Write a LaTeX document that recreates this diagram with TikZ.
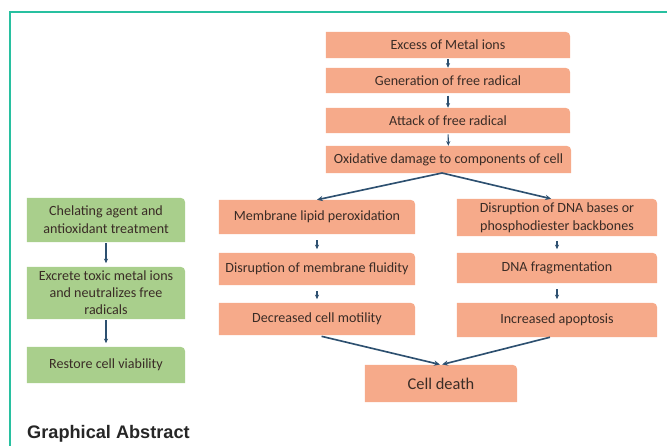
\documentclass[tikz,border=0pt]{standalone}
\usepackage{fontspec}
\setmainfont{Carlito}
\newfontfamily\titlefont{Liberation Sans}
\usetikzlibrary{backgrounds,arrows.meta}
\definecolor{boxorange}{RGB}{246,170,138}
\definecolor{boxgreen}{RGB}{169,207,140}
\definecolor{arrowblue}{RGB}{45,80,112}
\definecolor{frameteal}{RGB}{40,192,160}
\definecolor{boxtext}{RGB}{58,44,38}
\tikzset{
  flowbox/.style 2 args={minimum width=#1*0.3mm,minimum height=#2*0.3mm,inner sep=1pt,align=center,
    text=boxtext,font=\fontsize{12}{15}\selectfont},
  flowarrow/.style={arrowblue,line width=0.9pt,-{Stealth[length=4pt,width=3.5pt]}},
  splitarrow/.style={arrowblue,line width=1.4pt,-{Stealth[length=5pt,width=4.5pt]}}
}
\begin{document}
\begin{tikzpicture}[x=0.03cm,y=-0.03cm]
\useasboundingbox (0,0) rectangle (667,446);
\draw[frameteal,line width=1pt] (10,446)--(10,12)--(667,12);
% main chain
\node[flowbox={244}{26}] (excess) at (448,45) {Excess of Metal ions};
\node[flowbox={244}{25}] (generation) at (448,80.5) {Generation of free radical};
\node[flowbox={244}{25}] (attack) at (448,120.5) {Attack of free radical};
\node[flowbox={245}{27}] (oxidative) at (448.5,159.5) {Oxidative damage to components of cell};
% membrane branch
\node[flowbox={196}{34}] (lipid) at (317,217) {Membrane lipid peroxidation};
\node[flowbox={196}{32}] (fluidity) at (317,269) {Disruption of membrane fluidity};
\node[flowbox={196}{32}] (motility) at (317,319) {Decreased cell motility};
% DNA branch
\node[flowbox={200}{37}] (dnabases) at (557,217.5) {Disruption of DNA bases or\\phosphodiester backbones};
\node[flowbox={200}{30}] (fragment) at (557,268) {DNA fragmentation};
\node[flowbox={200}{34}] (apoptosis) at (557,320) {Increased apoptosis};
\node[flowbox={152}{37},font=\fontsize{14}{17}\selectfont] (death) at (441,383.5) {Cell death};
% treatment
\node[flowbox={158}{44},font=\fontsize{12}{15.4}\selectfont] (chelating) at (106,220) {Chelating agent and\\antioxidant treatment};
\node[flowbox={158}{52},font=\fontsize{12}{14.6}\selectfont] (excrete) at (106,293) {Excrete toxic metal ions\\and neutralizes free\\radicals};
\node[flowbox={158}{36}] (restore) at (106,365) {Restore cell viability};
\node[anchor=base west,font=\titlefont\bfseries\fontsize{15.5}{18}\selectfont,text=black!85,inner sep=0pt] (title) at (27,438) {Graphical Abstract};
\begin{scope}[on background layer]
\foreach \n/\c in {excess/boxorange,generation/boxorange,attack/boxorange,oxidative/boxorange,
  lipid/boxorange,fluidity/boxorange,motility/boxorange,dnabases/boxorange,fragment/boxorange,
  apoptosis/boxorange,death/boxorange,chelating/boxgreen,excrete/boxgreen,restore/boxgreen}
  \fill[\c] (\n.south east) -- (\n.south west) -- (\n.north west) [rounded corners=4pt] -- (\n.north east) [sharp corners] -- cycle;
\end{scope}
\coordinate (split) at (442,173);
\draw[flowarrow,shorten <=1pt] (excess) -- (generation);
\draw[flowarrow,shorten <=2pt] (generation) -- (attack);
\draw[flowarrow,shorten <=1pt] (attack) -- (oxidative);
\draw[splitarrow] (split) -- (lipid.north);
\draw[splitarrow] (split) -- ([xshift=-5pt]dnabases.north);
\draw[flowarrow,shorten <=5pt,shorten >=3pt] (lipid) -- (fluidity);
\draw[flowarrow,shorten <=5pt,shorten >=3pt] (fluidity) -- (motility);
\draw[flowarrow,shorten <=4pt,shorten >=3pt] (dnabases) -- (fragment);
\draw[flowarrow,shorten <=5pt,shorten >=3pt] (fragment) -- (apoptosis);
\draw[splitarrow,shorten <=4pt,shorten >=1pt] (motility.south) -- (death.north);
\draw[splitarrow,shorten <=0pt,shorten >=1pt] ([xshift=-6pt]apoptosis.south) -- (death.north);
\draw[flowarrow,shorten <=1pt,shorten >=3pt] (chelating) -- (excrete);
\draw[flowarrow,shorten <=1pt,shorten >=3pt] (excrete) -- (restore);
\end{tikzpicture}
\end{document}
